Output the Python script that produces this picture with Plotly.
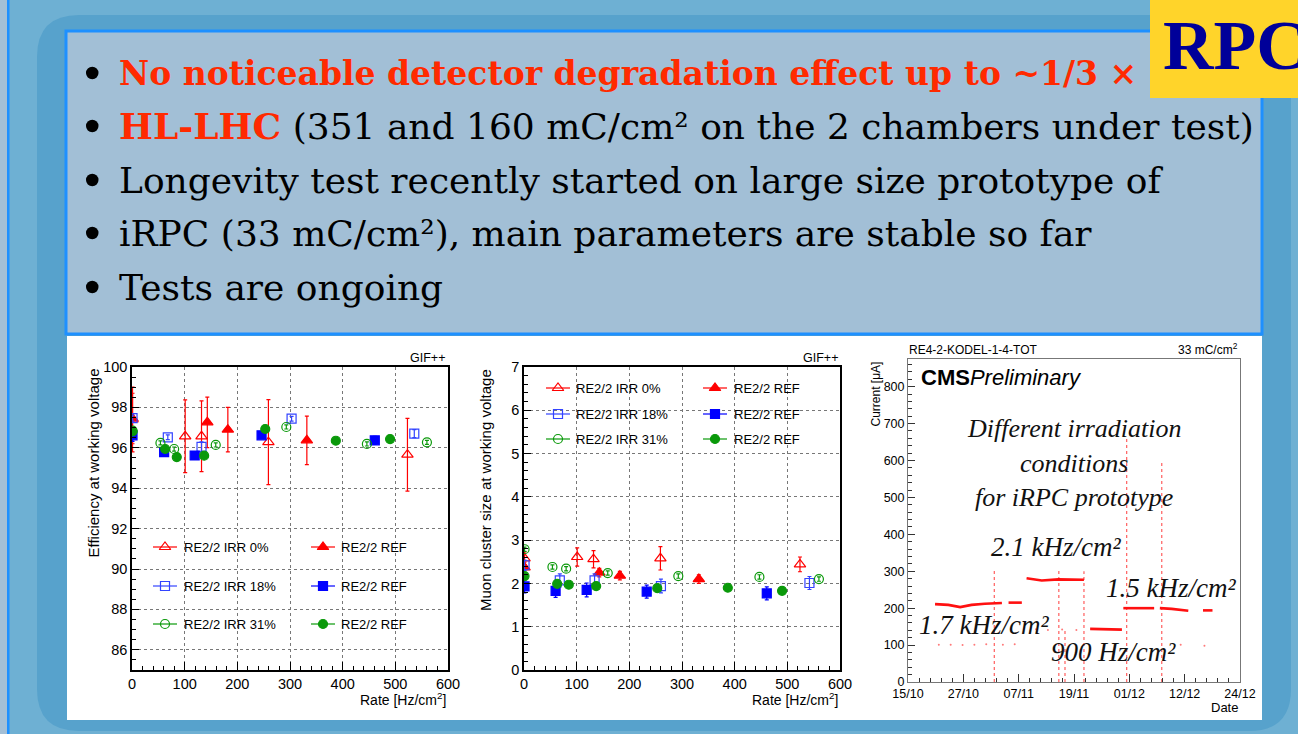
import plotly.graph_objects as go

W, H = 1298, 734

# ---------------- data ----------------
# Left panel: efficiency at working voltage vs rate [Hz/cm2]
eff_irr0_rate = [1, 101, 132, 259, 523]
eff_irr0_val = [97.40, 96.57, 96.57, 96.28, 95.66]
eff_irr0_err = [1.6, 1.8, 1.75, 2.1, 1.8]
eff_ref0_rate = [1, 143, 182, 332]
eff_ref0_val = [97.45, 97.26, 96.90, 96.37]
eff_ref0_err = [1.25, 1.25, 1.1, 1.2]
eff_irr18_rate = [1, 68, 132, 303, 536]
eff_irr18_val = [97.47, 96.52, 96.05, 97.44, 96.70]
eff_irr18_err = [0.15, 0.12, 0.25, 0.12, 0.2]
eff_ref18_rate = [1, 61, 119, 246, 461]
eff_ref18_val = [96.62, 95.79, 95.62, 96.62, 96.37]
eff_ref18_err = [0.3, 0.15, 0.12, 0.15, 0.2]
eff_irr31_rate = [1, 54, 80, 159, 293, 446, 560]
eff_irr31_val = [96.85, 96.24, 95.94, 96.14, 97.03, 96.19, 96.27]
eff_irr31_err = [0.1, 0.1, 0.1, 0.1, 0.1, 0.1, 0.1]
eff_ref31_rate = [1, 63, 85, 137, 253, 387, 490]
eff_ref31_val = [96.81, 95.94, 95.54, 95.61, 96.93, 96.35, 96.43]
eff_ref31_err = [0.08, 0.08, 0.08, 0.08, 0.08, 0.08, 0.08]

# Middle panel: muon cluster size at working voltage vs rate
cs_irr0_rate = [1, 101, 132, 259, 524]
cs_irr0_val = [2.58, 2.61, 2.56, 2.58, 2.44]
cs_irr0_err = [0.15, 0.21, 0.20, 0.27, 0.17]
cs_ref0_rate = [1, 143, 182, 332]
cs_ref0_val = [2.37, 2.25, 2.18, 2.10]
cs_ref0_err = [0.12, 0.10, 0.10, 0.10]
cs_irr18_rate = [1, 68, 134, 260, 542]
cs_irr18_val = [2.42, 2.07, 2.07, 1.94, 2.01]
cs_irr18_err = [0.12, 0.15, 0.15, 0.16, 0.15]
cs_ref18_rate = [1, 60, 119, 233, 461]
cs_ref18_val = [1.93, 1.83, 1.85, 1.81, 1.77]
cs_ref18_err = [0.15, 0.15, 0.16, 0.15, 0.15]
cs_irr31_rate = [1, 54, 80, 159, 293, 447, 560]
cs_irr31_val = [2.79, 2.38, 2.34, 2.24, 2.17, 2.15, 2.10]
cs_irr31_err = [0.05, 0.05, 0.05, 0.05, 0.05, 0.05, 0.05]
cs_ref31_rate = [1, 63, 85, 137, 253, 387, 490]
cs_ref31_val = [2.17, 1.99, 1.97, 1.94, 1.89, 1.90, 1.83]
cs_ref31_err = [0.03, 0.03, 0.03, 0.03, 0.03, 0.03, 0.03]

# Right panel: iRPC current [uA] vs date (days since 15/10)
cur_day = [5.7, 8.5, 11.0, 13.4, 16.2, 19.8, None, 21.2, 24.0, None,
           25.0, 28.2, 31.7, 37.1, None, 38.4, 45.1, None, 45.4, 51.9, None,
           53.1, 55.6, 59.1, None, 62.2, 64.2]
cur_val = [211, 209, 203, 209, 212, 214, None, 215, 215, None,
           281, 275, 278, 277, None, 144, 142, None, 200, 200, None,
           200, 198, 193, None, 194, 194]
spike_day = [18.2, 31.8, 33.1, 37.1, 46.1, 53.5]
spike_top = [304, 309, 140, 300, 665, 597]
dot_day = [6.5, 9.0, 11.5, 14.0, 16.5, 20.0, 22.5, 27.0, 29.5, 32.5, 35.5, 57.5, 62.5]
dot_val = [101, 101, 100, 101, 102, 101, 102, 143, 141, 142, 141, 101, 98]
date_tick_day = [0, 11.667, 23.333, 35, 46.667, 58.333, 70]
date_tick_lab = ['15/10', '27/10', '07/11', '19/11', '01/12', '12/12', '24/12']

legend_labels = ['RE2/2 IRR 0%', 'RE2/2 REF', 'RE2/2 IRR 18%', 'RE2/2 REF',
                 'RE2/2 IRR 31%', 'RE2/2 REF']

# ---------------- styles ----------------
RED = '#ff0000'
BLUE = '#0000ff'
BLUE_O = '#3344ff'
GREEN = '#0a990a'
SANS = 'Liberation Sans, Arial, sans-serif'
SERIF = 'Liberation Serif, Times New Roman, serif'
SLIDE = 'DejaVu Serif, serif'

styles = [
    dict(symbol='triangle-up-open', color=RED, size=10),
    dict(symbol='triangle-up', color=RED, size=10),
    dict(symbol='square-open', color=BLUE_O, size=9),
    dict(symbol='square', color=BLUE, size=9),
    dict(symbol='circle-open', color=GREEN, size=9),
    dict(symbol='circle', color=GREEN, size=9),
]

def fx(x):
    return x / W

def fy(y):
    return 1 - y / H

fig = go.Figure()

eff_series = [
    (eff_irr0_rate, eff_irr0_val, eff_irr0_err),
    (eff_ref0_rate, eff_ref0_val, eff_ref0_err),
    (eff_irr18_rate, eff_irr18_val, eff_irr18_err),
    (eff_ref18_rate, eff_ref18_val, eff_ref18_err),
    (eff_irr31_rate, eff_irr31_val, eff_irr31_err),
    (eff_ref31_rate, eff_ref31_val, eff_ref31_err),
]
cs_series = [
    (cs_irr0_rate, cs_irr0_val, cs_irr0_err),
    (cs_ref0_rate, cs_ref0_val, cs_ref0_err),
    (cs_irr18_rate, cs_irr18_val, cs_irr18_err),
    (cs_ref18_rate, cs_ref18_val, cs_ref18_err),
    (cs_irr31_rate, cs_irr31_val, cs_irr31_err),
    (cs_ref31_rate, cs_ref31_val, cs_ref31_err),
]

for ax, series in (('', eff_series), ('2', cs_series)):
    for st, (xs, ys, es), lab in zip(styles, series, legend_labels):
        fig.add_trace(go.Scatter(
            x=xs, y=ys, mode='markers', name=lab, showlegend=False,
            xaxis='x' + ax, yaxis='y' + ax,
            marker=dict(symbol=st['symbol'], color=st['color'], size=st['size'],
                        line=dict(color=st['color'], width=1.2)),
            error_y=dict(type='data', array=es, color=st['color'],
                         thickness=1.2, width=2),
        ))

# right panel traces
sx, sy = [], []
for d, t in zip(spike_day, spike_top):
    sx += [d, d, None]
    sy += [0, t, None]
fig.add_trace(go.Scatter(x=sx, y=sy, mode='lines', xaxis='x3', yaxis='y3',
                         showlegend=False,
                         line=dict(color='#ff6a6a', width=1.3, dash='dot')))
fig.add_trace(go.Scatter(x=dot_day, y=dot_val, mode='markers', xaxis='x3', yaxis='y3',
                         showlegend=False, marker=dict(color='#ff7a7a', size=2)))
fig.add_trace(go.Scatter(x=cur_day, y=cur_val, mode='lines', xaxis='x3', yaxis='y3',
                         showlegend=False, connectgaps=False,
                         line=dict(color='#ff1010', width=2.6)))

# ---------------- legends (drawn on a pixel overlay axis) ----------------
def draw_legend(rows_y, cols):
    k = 0
    for ry in rows_y:
        for (l0, l1, mx, tx) in cols:
            st = styles[k]
            fig.add_trace(go.Scatter(x=[l0, l1], y=[ry, ry], mode='lines',
                                     xaxis='x4', yaxis='y4', showlegend=False,
                                     line=dict(color=st['color'], width=1.2)))
            fig.add_trace(go.Scatter(x=[mx], y=[ry], mode='markers',
                                     xaxis='x4', yaxis='y4', showlegend=False,
                                     marker=dict(symbol=st['symbol'], color=st['color'],
                                                 size=st['size'],
                                                 line=dict(color=st['color'], width=1.2))))
            fig.add_annotation(x=tx, y=ry, xref='x4', yref='y4', text=legend_labels[k],
                               showarrow=False, xanchor='left', yanchor='middle',
                               font=dict(family=SANS, size=13, color='black'))
            k += 1

draw_legend([547, 586, 624], [(153, 177, 165, 182), (311, 335, 323, 339)])
draw_legend([388, 414, 439], [(546, 570, 558, 574), (703, 727, 715, 732)])

# ---------------- axes ----------------
def rate_axis(domain):
    return dict(domain=domain, range=[0, 600], dtick=100, tick0=0,
                showline=True, mirror=True, linecolor='black', linewidth=1.5,
                ticks='inside', ticklen=8, tickcolor='black', tickwidth=1,
                minor=dict(dtick=20, ticks='inside', ticklen=4, tickcolor='black',
                           showgrid=False),
                showgrid=True, gridcolor='#777', griddash='dot', gridwidth=1,
                zeroline=False, automargin=False,
                tickfont=dict(family=SANS, size=14.5, color='black'))

def val_axis(domain, rng, dt, mdt):
    return dict(domain=domain, range=rng, dtick=dt, tick0=0,
                showline=True, mirror=True, linecolor='black', linewidth=1.5,
                ticks='inside', ticklen=7, tickcolor='black', tickwidth=1,
                minor=dict(dtick=mdt, ticks='inside', ticklen=4, tickcolor='black',
                           showgrid=False),
                showgrid=True, gridcolor='#777', griddash='dot', gridwidth=1,
                zeroline=False, automargin=False,
                tickfont=dict(family=SANS, size=14.5, color='black'))

ydom = [fy(670), fy(367)]
xa = rate_axis([fx(132), fx(448)]); xa['anchor'] = 'y'
ya = val_axis(ydom, [85, 100], 2, 0.5); ya['anchor'] = 'x'
xa2 = rate_axis([fx(524), fx(840)]); xa2['anchor'] = 'y2'
ya2 = val_axis(ydom, [0, 7], 1, 0.2); ya2['anchor'] = 'x2'

xa3 = dict(domain=[fx(908), fx(1240)], anchor='y3', range=[0, 70],
           tickvals=date_tick_day, ticktext=date_tick_lab,
           showline=True, mirror=True, linecolor='#777', linewidth=1,
           ticks='inside', ticklen=8, tickcolor='#333',
           minor=dict(tick0=0, dtick=70 / 30, ticks='inside', ticklen=4,
                      tickcolor='#333', showgrid=False),
           showgrid=False, zeroline=False, automargin=False,
           tickfont=dict(family=SANS, size=12.5, color='black'))
ya3 = dict(domain=[fy(682), fy(359)], anchor='x3', range=[0, 875], dtick=100,
           showline=True, mirror=True, linecolor='#777', linewidth=1,
           ticks='inside', ticklen=7, tickcolor='#333',
           minor=dict(dtick=20, ticks='inside', ticklen=3.5, tickcolor='#333',
                      showgrid=False),
           showgrid=False, zeroline=False, automargin=False,
           tickfont=dict(family=SANS, size=12.5, color='black'))

xa4 = dict(domain=[0, 1], range=[0, W], visible=False, anchor='y4', fixedrange=True,
           automargin=False)
ya4 = dict(domain=[0, 1], range=[H, 0], visible=False, anchor='x4', fixedrange=True,
           automargin=False)

# ---------------- slide background shapes ----------------
def rect(x0, y0, x1, y1, fill, line=None, lw=0):
    return dict(type='rect', xref='paper', yref='paper', layer='below',
                x0=fx(x0), x1=fx(x1), y0=fy(y1), y1=fy(y0),
                fillcolor=fill, line=dict(color=line or fill, width=lw))

def rounded(x0, y0, x1, y1, r, fill):
    p = (f"M {fx(x0 + r)},{fy(y0)} L {fx(x1 - r)},{fy(y0)} "
         f"Q {fx(x1)},{fy(y0)} {fx(x1)},{fy(y0 + r)} "
         f"L {fx(x1)},{fy(y1 - r)} Q {fx(x1)},{fy(y1)} {fx(x1 - r)},{fy(y1)} "
         f"L {fx(x0 + r)},{fy(y1)} Q {fx(x0)},{fy(y1)} {fx(x0)},{fy(y1 - r)} "
         f"L {fx(x0)},{fy(y0 + r)} Q {fx(x0)},{fy(y0)} {fx(x0 + r)},{fy(y0)} Z")
    return dict(type='path', xref='paper', yref='paper', layer='below', path=p,
                fillcolor=fill, line=dict(width=0))

shapes = [
    rect(0, 0, 7, H, '#a3bfd6'),
    rect(7, 0, 9.5, H, '#1e90ff'),
    rounded(37, 15, 1291, 731, 42, '#57a2cc'),
    rect(66, 31, 1262, 334, '#a2bfd6', '#1e90ff', 3),
    rect(67, 336, 1262, 720, 'white'),
    rect(1150, 0, 1300, 98, '#ffd42a'),
]
for cy in [73, 126, 180, 233, 287]:
    shapes.append(dict(type='circle', xref='paper', yref='paper', layer='above',
                       x0=fx(86), x1=fx(98.5), y0=fy(cy + 6.25), y1=fy(cy - 6.25),
                       fillcolor='black', line=dict(width=0)))

# ---------------- text ----------------
def ann(x, y, text, size, family=SANS, color='black', xa_='left', ya_='middle', angle=0):
    fig.add_annotation(x=x, y=y, xref='x4', yref='y4', text=text, showarrow=False,
                       xanchor=xa_, yanchor=ya_, textangle=angle,
                       font=dict(family=family, size=size, color=color))

SLRED = '#ff2a00'
ann(117, 73, '<b>No noticeable detector degradation effect up to ~1/3 ×</b>', 33, SLIDE, SLRED)
ann(117, 126, f'<b><span style="color:{SLRED}">HL-LHC</span></b> (351 and 160 mC/cm² on the 2 chambers under test)', 36, SLIDE)
ann(117, 180, 'Longevity test recently started on large size prototype of', 36, SLIDE)
ann(117, 233, 'iRPC (33 mC/cm²), main parameters are stable so far', 36, SLIDE)
ann(117, 287, 'Tests are ongoing', 36, SLIDE)
ann(1161, 45, '<b>RPC</b>', 70, SERIF, '#000099')

# panel 1
ann(447, 358, 'GIF++', 12.5, xa_='right')
ann(93, 367, 'Efficiency at working voltage', 15, angle=-90, ya_='top', xa_='center')
ann(448, 699, 'Rate [Hz/cm<sup>2</sup>]', 14, xa_='right')
# panel 2
ann(840, 358, 'GIF++', 12.5, xa_='right')
ann(485, 367, 'Muon cluster size at working voltage', 15, angle=-90, ya_='top', xa_='center')
ann(840, 699, 'Rate [Hz/cm<sup>2</sup>]', 14, xa_='right')
# panel 3
ann(907, 350, 'RE4-2-KODEL-1-4-TOT', 12)
ann(1240, 349, '33 mC/cm<sup>2</sup>', 12, xa_='right')
ann(875, 360, 'Current [μA]', 12, angle=-90, ya_='top', xa_='center')
ann(1240, 707, 'Date', 13, xa_='right')
ann(919, 377, '<b>CMS</b><i>Preliminary</i>', 22)
ann(1074, 428, '<i>Different irradiation</i>', 26, SERIF, '#111', xa_='center')
ann(1074, 463, '<i>conditions</i>', 26, SERIF, '#111', xa_='center')
ann(1074, 497, '<i>for iRPC prototype</i>', 26, SERIF, '#111', xa_='center')
ann(989, 547, '<i>2.1 kHz/cm²</i>', 27, SERIF, '#111')
ann(1104, 588, '<i>1.5 kHz/cm²</i>', 27, SERIF, '#111')
ann(917, 625, '<i>1.7 kHz/cm²</i>', 27, SERIF, '#111')
ann(1049, 652, '<i>900 Hz/cm²</i>', 27, SERIF, '#111')

fig.update_layout(
    width=W, height=H, autosize=False,
    margin=dict(l=0, r=0, t=0, b=0, pad=0, autoexpand=False),
    paper_bgcolor='#6eb0d3', plot_bgcolor='rgba(0,0,0,0)',
    showlegend=False,
    xaxis=xa, yaxis=ya, xaxis2=xa2, yaxis2=ya2, xaxis3=xa3, yaxis3=ya3,
    xaxis4=xa4, yaxis4=ya4,
    shapes=shapes,
)

fig.write_html('out.html',
               config={'displayModeBar': False},
               post_script="document.body.style.margin='0';"
                           "document.body.style.overflow='hidden';")
